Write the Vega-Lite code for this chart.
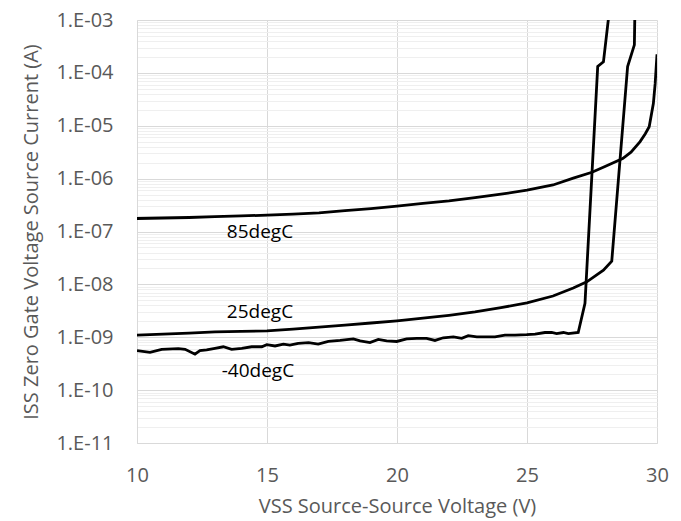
{
  "$schema": "https://vega.github.io/schema/vega-lite/v6.json",
  "width": 520,
  "height": 423,
  "autosize": "none",
  "padding": {"left": 137, "top": 20, "right": 24, "bottom": 78},
  "background": "white",
  "config": {"view": {"stroke": null}, "font": "Open Sans"},
  "datasets": {
    "curves": [
      {"V": 10, "I": 1.76e-7, "T": "85degC"},
      {"V": 11, "I": 1.80e-7, "T": "85degC"},
      {"V": 12, "I": 1.84e-7, "T": "85degC"},
      {"V": 13, "I": 1.91e-7, "T": "85degC"},
      {"V": 14, "I": 1.97e-7, "T": "85degC"},
      {"V": 15, "I": 2.04e-7, "T": "85degC"},
      {"V": 16, "I": 2.14e-7, "T": "85degC"},
      {"V": 17, "I": 2.26e-7, "T": "85degC"},
      {"V": 18, "I": 2.48e-7, "T": "85degC"},
      {"V": 19, "I": 2.72e-7, "T": "85degC"},
      {"V": 20, "I": 3.02e-7, "T": "85degC"},
      {"V": 21, "I": 3.39e-7, "T": "85degC"},
      {"V": 22, "I": 3.80e-7, "T": "85degC"},
      {"V": 23, "I": 4.37e-7, "T": "85degC"},
      {"V": 24, "I": 5.07e-7, "T": "85degC"},
      {"V": 25, "I": 6.03e-7, "T": "85degC"},
      {"V": 26, "I": 7.59e-7, "T": "85degC"},
      {"V": 26.78, "I": 1.02e-6, "T": "85degC"},
      {"V": 27.5, "I": 1.32e-6, "T": "85degC"},
      {"V": 28, "I": 1.70e-6, "T": "85degC"},
      {"V": 28.68, "I": 2.40e-6, "T": "85degC"},
      {"V": 29, "I": 3.16e-6, "T": "85degC"},
      {"V": 29.35, "I": 5.01e-6, "T": "85degC"},
      {"V": 29.55, "I": 7.08e-6, "T": "85degC"},
      {"V": 29.7, "I": 9.55e-6, "T": "85degC"},
      {"V": 29.86, "I": 2.63e-5, "T": "85degC"},
      {"V": 29.93, "I": 6.31e-5, "T": "85degC"},
      {"V": 30, "I": 2.24e-4, "T": "85degC"},
      {"V": 10, "I": 1.10e-9, "T": "25degC"},
      {"V": 11, "I": 1.15e-9, "T": "25degC"},
      {"V": 12, "I": 1.20e-9, "T": "25degC"},
      {"V": 13, "I": 1.26e-9, "T": "25degC"},
      {"V": 14, "I": 1.29e-9, "T": "25degC"},
      {"V": 15, "I": 1.32e-9, "T": "25degC"},
      {"V": 16, "I": 1.43e-9, "T": "25degC"},
      {"V": 17, "I": 1.55e-9, "T": "25degC"},
      {"V": 18, "I": 1.70e-9, "T": "25degC"},
      {"V": 19, "I": 1.86e-9, "T": "25degC"},
      {"V": 20, "I": 2.04e-9, "T": "25degC"},
      {"V": 21, "I": 2.29e-9, "T": "25degC"},
      {"V": 22, "I": 2.60e-9, "T": "25degC"},
      {"V": 23, "I": 3.02e-9, "T": "25degC"},
      {"V": 24, "I": 3.63e-9, "T": "25degC"},
      {"V": 25, "I": 4.47e-9, "T": "25degC"},
      {"V": 26, "I": 6.03e-9, "T": "25degC"},
      {"V": 26.78, "I": 8.51e-9, "T": "25degC"},
      {"V": 27.3, "I": 1.12e-8, "T": "25degC"},
      {"V": 27.94, "I": 1.86e-8, "T": "25degC"},
      {"V": 28.26, "I": 2.75e-8, "T": "25degC"},
      {"V": 28.87, "I": 1.32e-4, "T": "25degC"},
      {"V": 29.13, "I": 3.39e-4, "T": "25degC"},
      {"V": 29.16, "I": 3.16e-3, "T": "25degC"},
      {"V": 10.0, "I": 5.57e-10, "T": "-40degC"},
      {"V": 10.5, "I": 5.19e-10, "T": "-40degC"},
      {"V": 10.95, "I": 5.92e-10, "T": "-40degC"},
      {"V": 11.59, "I": 6.08e-10, "T": "-40degC"},
      {"V": 11.85, "I": 5.92e-10, "T": "-40degC"},
      {"V": 12.23, "I": 4.79e-10, "T": "-40degC"},
      {"V": 12.42, "I": 5.57e-10, "T": "-40degC"},
      {"V": 12.68, "I": 5.75e-10, "T": "-40degC"},
      {"V": 13.0, "I": 6.17e-10, "T": "-40degC"},
      {"V": 13.32, "I": 6.61e-10, "T": "-40degC"},
      {"V": 13.64, "I": 5.92e-10, "T": "-40degC"},
      {"V": 14.03, "I": 6.17e-10, "T": "-40degC"},
      {"V": 14.41, "I": 6.61e-10, "T": "-40degC"},
      {"V": 14.8, "I": 6.61e-10, "T": "-40degC"},
      {"V": 14.99, "I": 7.24e-10, "T": "-40degC"},
      {"V": 15.31, "I": 6.84e-10, "T": "-40degC"},
      {"V": 15.63, "I": 7.41e-10, "T": "-40degC"},
      {"V": 15.88, "I": 7.13e-10, "T": "-40degC"},
      {"V": 16.2, "I": 7.67e-10, "T": "-40degC"},
      {"V": 16.6, "I": 7.94e-10, "T": "-40degC"},
      {"V": 16.97, "I": 7.41e-10, "T": "-40degC"},
      {"V": 17.36, "I": 8.32e-10, "T": "-40degC"},
      {"V": 17.81, "I": 8.71e-10, "T": "-40degC"},
      {"V": 18.32, "I": 9.33e-10, "T": "-40degC"},
      {"V": 18.58, "I": 8.51e-10, "T": "-40degC"},
      {"V": 18.96, "I": 7.94e-10, "T": "-40degC"},
      {"V": 19.28, "I": 9.12e-10, "T": "-40degC"},
      {"V": 19.6, "I": 8.51e-10, "T": "-40degC"},
      {"V": 19.99, "I": 8.32e-10, "T": "-40degC"},
      {"V": 20.37, "I": 9.33e-10, "T": "-40degC"},
      {"V": 20.76, "I": 9.55e-10, "T": "-40degC"},
      {"V": 21.14, "I": 9.55e-10, "T": "-40degC"},
      {"V": 21.46, "I": 8.71e-10, "T": "-40degC"},
      {"V": 21.78, "I": 9.77e-10, "T": "-40degC"},
      {"V": 22.17, "I": 1.02e-9, "T": "-40degC"},
      {"V": 22.49, "I": 9.55e-10, "T": "-40degC"},
      {"V": 22.74, "I": 1.07e-9, "T": "-40degC"},
      {"V": 23.07, "I": 1.02e-9, "T": "-40degC"},
      {"V": 23.58, "I": 1.02e-9, "T": "-40degC"},
      {"V": 23.77, "I": 1.02e-9, "T": "-40degC"},
      {"V": 24.15, "I": 1.10e-9, "T": "-40degC"},
      {"V": 24.54, "I": 1.10e-9, "T": "-40degC"},
      {"V": 24.99, "I": 1.12e-9, "T": "-40degC"},
      {"V": 25.31, "I": 1.15e-9, "T": "-40degC"},
      {"V": 25.69, "I": 1.23e-9, "T": "-40degC"},
      {"V": 25.95, "I": 1.23e-9, "T": "-40degC"},
      {"V": 26.14, "I": 1.17e-9, "T": "-40degC"},
      {"V": 26.4, "I": 1.23e-9, "T": "-40degC"},
      {"V": 26.59, "I": 1.17e-9, "T": "-40degC"},
      {"V": 26.97, "I": 1.23e-9, "T": "-40degC"},
      {"V": 27.23, "I": 4.37e-9, "T": "-40degC"},
      {"V": 27.72, "I": 1.32e-4, "T": "-40degC"},
      {"V": 27.94, "I": 1.62e-4, "T": "-40degC"},
      {"V": 28.19, "I": 1.86e-3, "T": "-40degC"}
    ],
    "labels": [
      {"V": 14.73, "I": 1.0e-7, "label": "85degC"},
      {"V": 14.73, "I": 3.0e-9, "label": "25degC"},
      {"V": 14.65, "I": 2.34e-10, "label": "-40degC"}
    ]
  },
  "encoding": {
    "x": {
      "field": "V",
      "type": "quantitative",
      "scale": {"domain": [10, 30], "nice": false, "zero": false},
      "axis": {
        "title": "VSS Source-Source Voltage (V)",
        "values": [10, 15, 20, 25, 30],
        "grid": true,
        "gridColor": "#d9d9d9",
        "gridWidth": 1,
        "domainColor": "#d9d9d9",
        "domainWidth": 1,
        "ticks": false,
        "labelFlush": false,
        "labelFontSize": 20,
        "labelColor": "#595959",
        "labelPadding": 22,
        "titleFontSize": 20,
        "titleFontWeight": "normal",
        "titleColor": "#595959",
        "titlePadding": 11
      }
    },
    "y": {
      "field": "I",
      "type": "quantitative",
      "scale": {"type": "log", "domain": [1e-11, 1e-3], "nice": false},
      "axis": {
        "title": "ISS Zero Gate Voltage Source Current (A)",
        "values": [1e-11, 2e-11, 3e-11, 4e-11, 5e-11, 6e-11, 7e-11, 8e-11, 9e-11,
                   1e-10, 2e-10, 3e-10, 4e-10, 5e-10, 6e-10, 7e-10, 8e-10, 9e-10,
                   1e-9, 2e-9, 3e-9, 4e-9, 5e-9, 6e-9, 7e-9, 8e-9, 9e-9,
                   1e-8, 2e-8, 3e-8, 4e-8, 5e-8, 6e-8, 7e-8, 8e-8, 9e-8,
                   1e-7, 2e-7, 3e-7, 4e-7, 5e-7, 6e-7, 7e-7, 8e-7, 9e-7,
                   1e-6, 2e-6, 3e-6, 4e-6, 5e-6, 6e-6, 7e-6, 8e-6, 9e-6,
                   1e-5, 2e-5, 3e-5, 4e-5, 5e-5, 6e-5, 7e-5, 8e-5, 9e-5,
                   1e-4, 2e-4, 3e-4, 4e-4, 5e-4, 6e-4, 7e-4, 8e-4, 9e-4, 1e-3],
        "labelExpr": "abs(log(datum.value)/LN10 - round(log(datum.value)/LN10)) < 0.001 ? '1.E-' + (round(-log(datum.value)/LN10) < 10 ? '0' : '') + round(-log(datum.value)/LN10) : ''",
        "labelOverlap": false,
        "grid": true,
        "gridColor": {"condition": {"test": "abs(log(datum.value)/LN10 - round(log(datum.value)/LN10)) < 0.001", "value": "#d9d9d9"}, "value": "#efefef"},
        "gridWidth": 1,
        "domainColor": "#d9d9d9",
        "domainWidth": 1,
        "ticks": false,
        "labelFontSize": 20,
        "labelColor": "#595959",
        "labelPadding": 24,
        "titleFontSize": 20,
        "titleFontWeight": "normal",
        "titleColor": "#595959",
        "titlePadding": 14
      }
    }
  },
  "layer": [
    {
      "data": {"name": "curves"},
      "mark": {"type": "line", "color": "black", "strokeWidth": 2.8, "clip": true},
      "encoding": {"detail": {"field": "T", "type": "nominal"}}
    },
    {
      "data": {"name": "labels"},
      "mark": {"type": "text", "fontSize": 19, "color": "black", "align": "center", "baseline": "middle"},
      "encoding": {"text": {"field": "label", "type": "nominal"}}
    }
  ]
}
